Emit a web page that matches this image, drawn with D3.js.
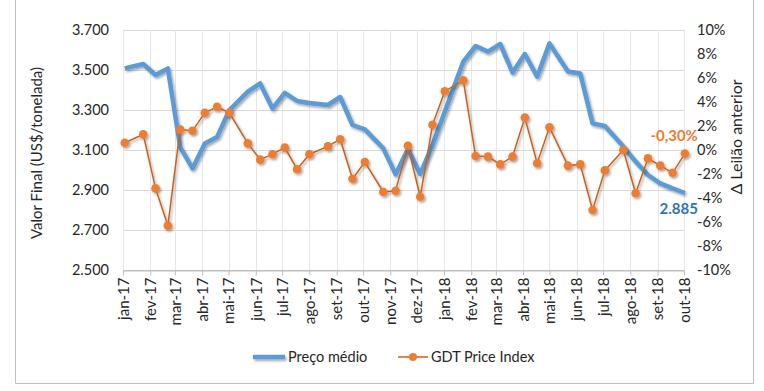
<!DOCTYPE html>
<html><head><meta charset="utf-8">
<script src="https://cdn.jsdelivr.net/npm/d3@7"></script>
<style>
html,body{margin:0;padding:0;background:#fff;}
svg{display:block;font-family:Lato,"Open Sans",sans-serif;}
</style></head>
<body>
<svg id="chart" width="764" height="391"></svg>
<script>
// ---- data ----
const auctionDates = ["2017-01-03","2017-01-24","2017-02-07","2017-02-21","2017-03-07","2017-03-21","2017-04-04","2017-04-18","2017-05-02","2017-05-23","2017-06-06","2017-06-20","2017-07-04","2017-07-18","2017-08-01","2017-08-22","2017-09-05","2017-09-19","2017-10-03","2017-10-24","2017-11-07","2017-11-21","2017-12-05","2017-12-19","2018-01-02","2018-01-23","2018-02-06","2018-02-20","2018-03-06","2018-03-20","2018-04-03","2018-04-17","2018-05-01","2018-05-22","2018-06-05","2018-06-19","2018-07-03","2018-07-24","2018-08-07","2018-08-21","2018-09-04","2018-09-18","2018-10-02"];
const precoMedio = [3508,3530,3475,3508,3115,3008,3133,3165,3300,3392,3433,3308,3386,3345,3335,3325,3365,3225,3203,3108,2978,3105,2980,3125,3292,3542,3620,3592,3630,3487,3580,3467,3633,3492,3483,3233,3220,3117,3042,2975,2933,2908,2885];
const gdtIndex = [0.6,1.3,-3.2,-6.3,1.7,1.6,3.1,3.6,3.1,0.55,-0.8,-0.35,0.2,-1.6,-0.35,0.3,0.9,-2.4,-1.0,-3.5,-3.4,0.35,-3.9,2.1,4.9,5.8,-0.5,-0.55,-1.2,-0.55,2.7,-1.1,1.9,-1.3,-1.2,-5.0,-1.7,0.0,-3.6,-0.7,-1.3,-1.9,-0.3];
const monthLabels = ["jan-17","fev-17","mar-17","abr-17","mai-17","jun-17","jul-17","ago-17","set-17","out-17","nov-17","dez-17","jan-18","fev-18","mar-18","abr-18","mai-18","jun-18","jul-18","ago-18","set-18","out-18"];
const leftTicks = [2500,2700,2900,3100,3300,3500,3700];
const rightTicks = [-10,-8,-6,-4,-2,0,2,4,6,8,10];
const seriesNames = ["Preço médio","GDT Price Index"];
const lastLabels = ["2.885","-0,30%"];

// ---- setup ----
const parse = d3.timeParse("%Y-%m-%d");
const dates = auctionDates.map(parse);
const svg = d3.select("#chart");
const M = {left:123, right:684, top:30, bottom:270};
const blue = "#5b9bd5", orange = "#ed7d31", orangeLine = "#c8611f";

const x = d3.scaleTime().domain([new Date(2017,0,1), new Date(2018,9,1)]).range([M.left, M.right]);
const yL = d3.scaleLinear().domain([2500,3700]).range([M.bottom, M.top]);
const yR = d3.scaleLinear().domain([-10,10]).range([M.bottom, M.top]);
const months = d3.timeMonth.range(new Date(2017,0,1), new Date(2018,9,2));

const defs = svg.append("defs");
const f = defs.append("filter").attr("id","shadow").attr("filterUnits","userSpaceOnUse")
  .attr("x",0).attr("y",0).attr("width",764).attr("height",391);
f.append("feDropShadow").attr("dx",1.5).attr("dy",1.8).attr("stdDeviation",1.2).attr("flood-color","#000").attr("flood-opacity",0.35);

// outer border
svg.append("path").attr("d","M15.5,0 V383.5 H753.5 V0").attr("fill","none").attr("stroke","#bfbfbf").attr("stroke-width",1);

// gridlines
svg.append("g").selectAll("line").data(leftTicks).join("line")
  .attr("x1",M.left).attr("x2",M.right).attr("y1",d=>yL(d)+0.5).attr("y2",d=>yL(d)+0.5)
  .attr("stroke",(d)=>d===2500?"#bfbfbf":"#d9d9d9").attr("stroke-width",1);
svg.append("g").selectAll("line").data(months).join("line")
  .attr("x1",d=>Math.round(x(d))+0.5).attr("x2",d=>Math.round(x(d))+0.5)
  .attr("y1",M.top).attr("y2",M.bottom)
  .attr("stroke","#e6e6e6").attr("stroke-width",1);

// x axis
const xAxis = d3.axisBottom(x).tickValues(months).tickSize(5).tickFormat((d,i)=>monthLabels[i]);
const gx = svg.append("g").attr("transform",`translate(0,${M.bottom+0.5})`).call(xAxis);
gx.select(".domain").attr("stroke","#bfbfbf");
gx.selectAll(".tick line").attr("stroke","#bfbfbf");
gx.selectAll(".tick text").attr("transform","rotate(-90)").attr("text-anchor","end")
  .attr("x",-7).attr("y",0).attr("dy","0.35em").attr("fill","#262626").style("font-size","15px").style("font-family","Lato, sans-serif");

// left axis
const fmtL = d3.formatLocale({decimal:",",thousands:".",grouping:[3],currency:["R$",""]}).format(",d");
const gl = svg.append("g").attr("transform",`translate(${M.left},0)`)
  .call(d3.axisLeft(yL).tickValues(leftTicks).tickSize(0).tickPadding(14).tickFormat(d=>fmtL(d)));
gl.select(".domain").remove();
gl.selectAll("text").attr("fill","#262626").style("font-size","14.5px").style("font-family","Lato, sans-serif");

// right axis
const gr = svg.append("g").attr("transform",`translate(${M.right},0)`)
  .call(d3.axisRight(yR).tickValues(rightTicks).tickSize(0).tickPadding(13).tickFormat(d=>(d<0?"-":"")+Math.abs(d)+"%"));
gr.select(".domain").remove();
gr.selectAll("text").attr("fill","#262626").style("font-size","14.5px").style("font-family","Lato, sans-serif");

// axis titles
svg.append("text").attr("transform","translate(42,153) rotate(-90)").attr("text-anchor","middle")
  .attr("fill","#262626").style("font-size","15px").text("Valor Final (US$/tonelada)");
svg.append("text").attr("transform","translate(742,137) rotate(-90)").attr("text-anchor","middle")
  .attr("fill","#262626").style("font-size","16px").text("Δ Leilão anterior");

// blue series
const lineL = d3.line().x((d,i)=>x(dates[i])).y(d=>yL(d));
svg.append("path").datum(precoMedio).attr("d",lineL).attr("fill","none")
  .attr("stroke",blue).attr("stroke-width",4.5).attr("stroke-linejoin","round").attr("filter","url(#shadow)");

// orange series
const lineR = d3.line().x((d,i)=>x(dates[i])).y(d=>yR(d));
const go = svg.append("g").attr("filter","url(#shadow)");
go.append("path").datum(gdtIndex).attr("d",lineR).attr("fill","none")
  .attr("stroke",orangeLine).attr("stroke-width",1.5);
go.selectAll("circle").data(gdtIndex).join("circle")
  .attr("cx",(d,i)=>x(dates[i])).attr("cy",d=>yR(d)).attr("r",4.3).attr("fill",orange);

// data labels
const n = dates.length-1;
svg.append("text").attr("x",x(dates[n])+13).attr("y",yR(gdtIndex[n])-13).attr("text-anchor","end")
  .attr("fill",orange).style("font-size","15px").style("font-weight","bold").text(lastLabels[1]);
svg.append("text").attr("x",x(dates[n])+13).attr("y",yL(precoMedio[n])+21).attr("text-anchor","end")
  .attr("fill","#2e75b6").style("font-size","15px").style("font-weight","bold").text(lastLabels[0]);

// legend
const lg = svg.append("g").style("font-size","14.5px").attr("fill","#262626");
lg.append("line").attr("x1",253).attr("x2",285).attr("y1",357).attr("y2",357).attr("stroke",blue).attr("stroke-width",4.5).attr("filter","url(#shadow)");
lg.append("text").attr("x",288).attr("y",362).text(seriesNames[0]);
lg.append("line").attr("x1",398).attr("x2",428).attr("y1",357).attr("y2",357).attr("stroke",orangeLine).attr("stroke-width",1.5);
lg.append("circle").attr("cx",413).attr("cy",357).attr("r",4).attr("fill",orange);
lg.append("text").attr("x",431).attr("y",362).text(seriesNames[1]);
</script>
</body></html>
